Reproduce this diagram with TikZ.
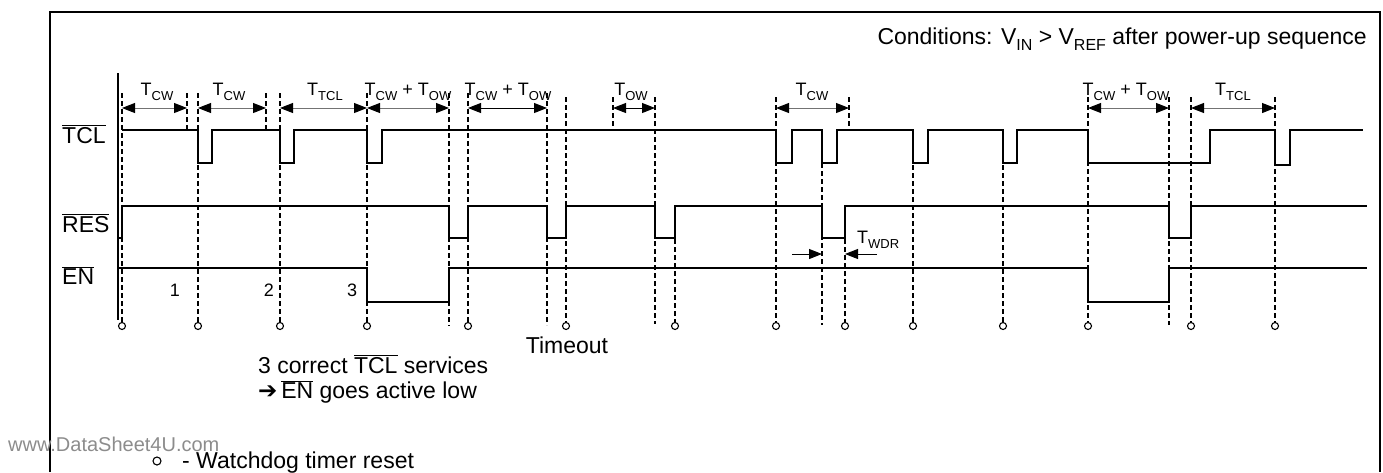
\documentclass[tikz,border=0pt]{standalone}
\usepackage{fontspec}
\setmainfont{Liberation Sans}
\newfontfamily\symfont{DejaVu Sans}
\usetikzlibrary{arrows.meta}

\newcommand{\tsb}[1]{T\raisebox{-0.3em}{\fontsize{13}{13}\selectfont #1}}
\newcommand{\vsb}[1]{V\raisebox{-0.3em}{\fontsize{16}{16}\selectfont #1}}
\newcommand{\ovl}[1]{\ensuremath{\overline{\mbox{#1}}}}

\begin{document}
\begin{tikzpicture}
[
  x=1pt, y=-1pt,
  sig/.style={line width=2pt, line join=miter},
  guide/.style={line width=1.7pt, dash pattern=on 5pt off 3pt},
  dim/.style={{Triangle[black,length=13pt,width=10pt]}-{Triangle[black,length=13pt,width=10pt]}, line width=1pt, draw=black!55},
  tip/.style={-{Triangle[length=13pt,width=10pt]}, line width=1pt},
  lbl/.style={font=\fontsize{18}{20}\selectfont, inner sep=0pt, anchor=base},
  txt/.style={font=\fontsize{23}{26}\selectfont, inner sep=0pt, anchor=base west},
  resetmark/.style={line width=1.1pt, fill=white}
]

\useasboundingbox (0,0) rectangle (1383,472);
\draw[line width=1.5pt] (50,472) -- (50,12) -- (1380,12) -- (1380,472);

\node (cond) [txt, anchor=base east] at (1367,44) {Conditions: \vsb{IN} > \vsb{REF} after power-up sequence};

% signal names
\node (tcl) [txt] at (62,143) {\ovl{TCL}};
\node (res) [txt] at (62,232) {\ovl{RES}};
\node (en) [txt] at (62,284) {\ovl{EN}};

\draw[line width=1.2pt] (118,73) -- (118,320);

% dashed guides: x / top / bottom
\foreach \x/\t/\b in {122/93/322, 187/93/130, 198/93/322, 266/93/130, 280/93/322,
  367/93/322, 449/93/326, 468/93/322, 547/93/325, 566/97/322, 613/97/130,
  655/97/324, 675/239/322, 776/97/322, 822/163/325, 849/97/130, 845/239/322,
  913/165/322, 1003/165/322, 1088/97/322, 1169/97/325, 1191/97/322, 1275/97/322}
  \draw[guide] (\x,\t) -- (\x,\b);

\foreach \x in {122,198,280,367,468,566,675,776,845,913,1003,1088,1191,1275}
  \draw[resetmark] (\x,326) circle (3.5pt);

% waveforms
\draw[sig] (122,130) -- (198,130) -- (198,163) -- (212,163) -- (212,130)
  -- (280,130) -- (280,163) -- (294,163) -- (294,130) -- (367,130) -- (367,163)
  -- (382,163) -- (382,130) -- (776,130) -- (776,163) -- (792,163) -- (792,130)
  -- (822,130) -- (822,163) -- (837,163) -- (837,130) -- (913,130) -- (913,163)
  -- (928,163) -- (928,130) -- (1003,130) -- (1003,163) -- (1017,163) -- (1017,130)
  -- (1088,130) -- (1088,163) -- (1210,163) -- (1210,130) -- (1275,130)
  -- (1275,165) -- (1290,165) -- (1290,130) -- (1363,130);

\draw[sig] (119,238) -- (122,238) -- (122,206) -- (449,206) -- (449,238) -- (468,238)
  -- (468,206) -- (547,206) -- (547,238) -- (566,238) -- (566,206) -- (655,206)
  -- (655,238) -- (675,238) -- (675,206) -- (822,206) -- (822,238) -- (845,238)
  -- (845,206) -- (1169,206) -- (1169,238) -- (1191,238) -- (1191,206) -- (1367,206);

\draw[sig] (118,268) -- (367,268) -- (367,302) -- (449,302) -- (449,268)
  -- (1088,268) -- (1088,302) -- (1169,302) -- (1169,268) -- (1367,268);

% time intervals
\draw[dim] (122,108) -- (187,108);
\node (cw1) [lbl] at (157,95) {\tsb{CW}};
\draw[dim] (198,108) -- (266,108);
\node (cw2) [lbl] at (229,95) {\tsb{CW}};
\draw[dim] (280,108) -- (367,108);
\node (tcl1) [lbl] at (325,95) {\tsb{TCL}};
\draw[dim] (367,108) -- (449,108);
\node (cwow1) [lbl] at (408,95) {\tsb{CW} + \tsb{OW}};
\draw[dim, draw=black] (468,108) -- (547,108);
\node (cwow2) [lbl] at (508,95) {\tsb{CW} + \tsb{OW}};
\draw[dim, draw=black] (613,108) -- (655,108);
\node (ow1) [lbl] at (631,95) {\tsb{OW}};
\draw[dim] (776,108) -- (849,108);
\node (cw3) [lbl] at (812,95) {\tsb{CW}};
\draw[dim] (1088,108) -- (1169,108);
\node (cwow3) [lbl] at (1126,95) {\tsb{CW} + \tsb{OW}};
\draw[dim] (1191,108) -- (1275,108);
\node (tcl2) [lbl] at (1233,95) {\tsb{TCL}};

\draw[tip] (792,254) -- (822,254);
\draw[tip] (877,254) -- (845,254);
\node (wdr) [lbl, anchor=base west] at (857,243) {\tsb{WDR}};

\node (n1) [lbl] at (175,296) {1};
\node (n2) [lbl] at (269,296) {2};
\node (n3) [lbl] at (352,296) {3};

\node (tmo) [txt, anchor=base] at (567,353) {Timeout};
\node (note1) [txt] at (258,373) {3 correct \ovl{TCL} services};
\node (note2) [txt] at (258,398) {{\symfont ➔}\,\ovl{EN} goes active low};

\node (wm) [txt, font=\fontsize{20}{22}\selectfont, text=black!45] at (8,451) {www.DataSheet4U.com};
\draw[resetmark] (157,461) circle (4pt);
\node (legend) [txt] at (182,468) {- Watchdog timer reset};
\end{tikzpicture}
\end{document}
